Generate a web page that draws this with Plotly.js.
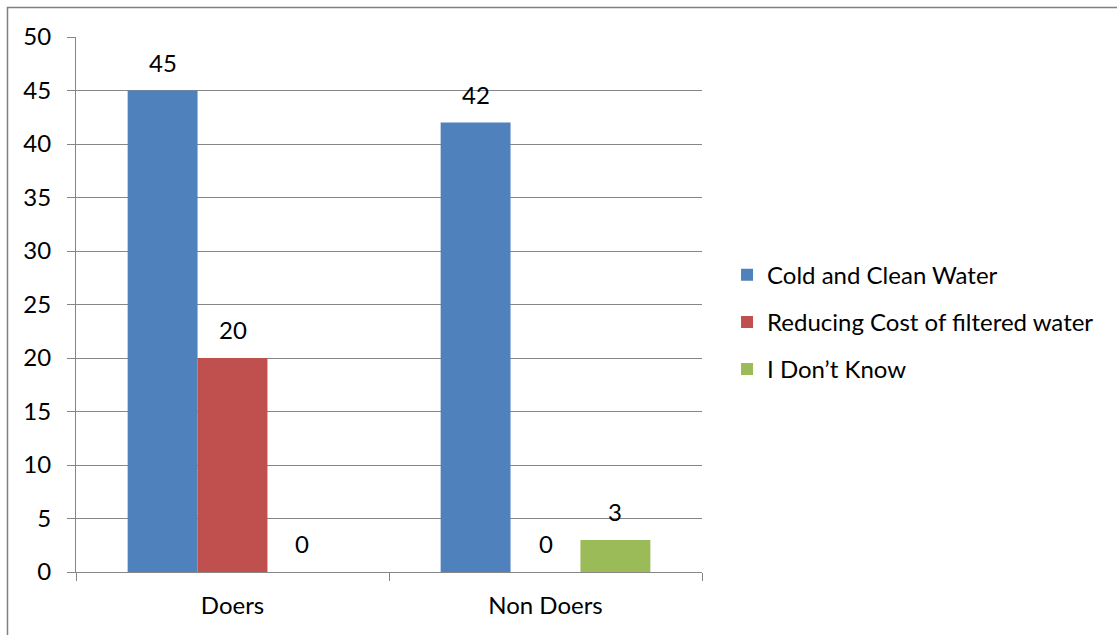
<!DOCTYPE html>
<html>
<head>
<meta charset="utf-8">
<script src="https://cdn.plot.ly/plotly-3.0.1.min.js"></script>
<style>
  html, body { margin: 0; padding: 0; background: #fff; }
  #chart { width: 1117px; height: 635px; }
</style>
</head>
<body>
<div id="chart"></div>
<script>
// Reasons given by doers and non doers
const categories = ["Doers", "Non Doers"];
const seriesNames = ["Cold and Clean Water", "Reducing Cost of filtered water", "I Don\u2019t Know"];
const coldCleanWater = [45, 42];
const reducingCost = [20, 0];
const dontKnow = [0, 3];
const seriesColors = ["#4F81BD", "#C0504D", "#9BBB59"];
const yTicks = [0, 5, 10, 15, 20, 25, 30, 35, 40, 45, 50];

const seriesValues = [coldCleanWater, reducingCost, dontKnow];
const FONT = "Lato, 'Open Sans', sans-serif";
const FS = 24;
const bargap = 0.33;
const barWidth = (1 - bargap) / seriesValues.length;

const traces = seriesValues.map((vals, j) => ({
  type: "bar",
  name: seriesNames[j],
  x: categories,
  y: vals,
  marker: { color: seriesColors[j], line: { width: 0 } },
  legendgroup: "g" + j,
  hoverinfo: "x+y+name"
}));

// value labels above each bar
const annotations = [];
seriesValues.forEach((vals, j) => {
  vals.forEach((v, i) => {
    annotations.push({
      x: i + (j - (seriesValues.length - 1) / 2) * barWidth,
      y: v,
      xref: "x", yref: "y",
      text: String(v),
      showarrow: false,
      yanchor: "bottom",
      yshift: 12,
      font: { family: FONT, size: FS, color: "#000" }
    });
  });
});

const layout = {
  width: 1117,
  height: 635,
  margin: { l: 76, r: 415, t: 37, b: 63 },
  paper_bgcolor: "#fff",
  plot_bgcolor: "#fff",
  font: { family: FONT, size: FS, color: "#000" },
  barmode: "group",
  bargap: bargap,
  bargroupgap: 0,
  showlegend: true,
  legend: {
    x: 1.04, xanchor: "left",
    y: 0.597, yanchor: "top",
    traceorder: "grouped",
    tracegroupgap: 13,
    font: { family: FONT, size: FS, color: "#000" },
    bgcolor: "rgba(0,0,0,0)"
  },
  xaxis: {
    type: "category",
    showline: true, linecolor: "#868686", linewidth: 1,
    ticks: "outside", tickson: "boundaries", ticklen: 8, tickcolor: "#868686",
    showgrid: false,
    ticklabelstandoff: 12,
    tickfont: { family: FONT, size: FS, color: "#000" },
    fixedrange: true
  },
  yaxis: {
    range: [0, 50],
    tickvals: yTicks,
    ticktext: yTicks.map(String),
    showline: true, linecolor: "#868686", linewidth: 1,
    ticks: "outside", ticklen: 8, tickcolor: "#868686",
    showgrid: true, gridcolor: "#868686", gridwidth: 1,
    zeroline: false,
    ticklabelstandoff: 11,
    tickfont: { family: FONT, size: FS, color: "#000" },
    fixedrange: true
  },
  shapes: [{
    type: "rect", xref: "paper", yref: "paper",
    x0: (7.5 - 76) / 626, x1: (1125 - 76) / 626,
    y0: (572 - 645) / 535, y1: (572 - 7.5) / 535,
    line: { color: "#808080", width: 1.5 },
    fillcolor: "rgba(0,0,0,0)",
    layer: "below"
  }],
  annotations: annotations
};

Plotly.newPlot("chart", traces, layout, { staticPlot: true, displayModeBar: false });
</script>
</body>
</html>
